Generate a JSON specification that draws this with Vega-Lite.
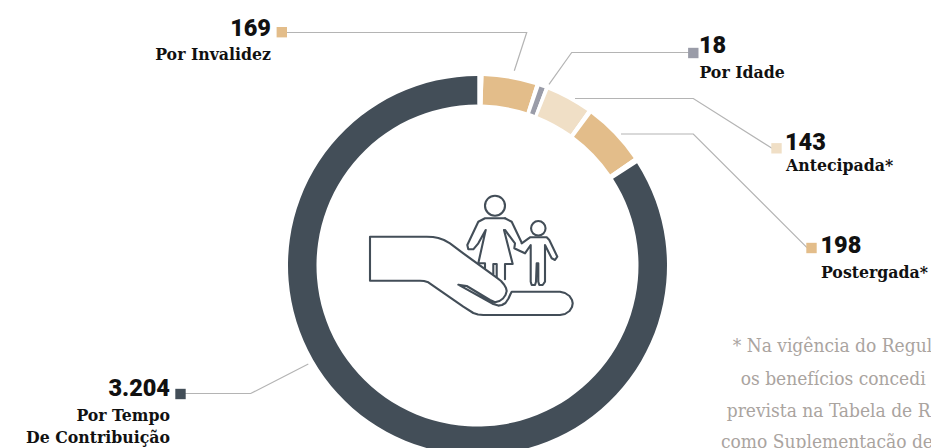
{
  "$schema": "https://vega.github.io/schema/vega-lite/v6.json",
  "width": 931,
  "height": 448,
  "padding": 0,
  "autosize": {"type": "none"},
  "background": "white",
  "config": {"view": {"stroke": null}},
  "encoding": {
    "x": {"field": "x", "type": "quantitative", "scale": {"domain": [0, 931], "nice": false, "zero": false}, "axis": null},
    "y": {"field": "y", "type": "quantitative", "scale": {"domain": [448, 0], "nice": false, "zero": false}, "axis": null}
  },
  "layer": [
    {
      "data": {"values": [
        {"tipo": "Por Invalidez", "valor": 169, "ordem": 1},
        {"tipo": "intervalo", "valor": 14, "ordem": 2},
        {"tipo": "Por Idade", "valor": 18, "ordem": 3},
        {"tipo": "intervalo", "valor": 12, "ordem": 4},
        {"tipo": "Antecipada", "valor": 143, "ordem": 5},
        {"tipo": "intervalo", "valor": 15, "ordem": 6},
        {"tipo": "Postergada", "valor": 198, "ordem": 7},
        {"tipo": "intervalo", "valor": 19, "ordem": 8},
        {"tipo": "Por Tempo de Contribuição", "valor": 3204, "ordem": 9},
        {"tipo": "intervalo", "valor": 19, "ordem": 10}
      ]},
      "mark": {"type": "arc", "innerRadius": 161, "outerRadius": 189.5},
      "encoding": {
        "x": {"value": 477.5},
        "y": {"value": 265.5},
        "theta": {"field": "valor", "type": "quantitative", "stack": true, "scale": {"range": [0.0315, 6.3147]}},
        "order": {"field": "ordem", "type": "quantitative"},
        "color": {
          "field": "tipo",
          "type": "nominal",
          "legend": null,
          "scale": {
            "domain": ["Por Invalidez", "Por Idade", "Antecipada", "Postergada", "Por Tempo de Contribuição", "intervalo"],
            "range": ["#e3bd8a", "#9a9ca8", "#f0dfc6", "#e3bd8a", "#434e58", "#ffffff"]
          }
        }
      }
    },
    {
      "data": {"values": [
        {"fio": "Por Invalidez", "p": 1, "x": 284, "y": 32.5},
        {"fio": "Por Invalidez", "p": 2, "x": 526.7, "y": 32.5},
        {"fio": "Por Invalidez", "p": 3, "x": 514.3, "y": 70.7},
        {"fio": "Por Idade", "p": 1, "x": 692, "y": 52.5},
        {"fio": "Por Idade", "p": 2, "x": 571.7, "y": 52.5},
        {"fio": "Por Idade", "p": 3, "x": 549, "y": 84.3},
        {"fio": "Antecipada", "p": 1, "x": 575, "y": 98.5},
        {"fio": "Antecipada", "p": 2, "x": 693.3, "y": 98.5},
        {"fio": "Antecipada", "p": 3, "x": 772, "y": 148.3},
        {"fio": "Postergada", "p": 1, "x": 621, "y": 134},
        {"fio": "Postergada", "p": 2, "x": 693.3, "y": 134},
        {"fio": "Postergada", "p": 3, "x": 807, "y": 247.7},
        {"fio": "Por Tempo", "p": 1, "x": 308.3, "y": 364},
        {"fio": "Por Tempo", "p": 2, "x": 250.7, "y": 393.5},
        {"fio": "Por Tempo", "p": 3, "x": 185, "y": 393.5}
      ]},
      "mark": {"type": "line", "stroke": "#b4b4b4", "strokeWidth": 1.2},
      "encoding": {
        "detail": {"field": "fio"},
        "order": {"field": "p", "type": "quantitative"}
      }
    },
    {
      "data": {"values": [
        {"tipo": "Por Invalidez", "x": 281.8, "y": 32.2},
        {"tipo": "Por Idade", "x": 693.3, "y": 53},
        {"tipo": "Antecipada", "x": 776.5, "y": 148.3},
        {"tipo": "Postergada", "x": 811.5, "y": 248},
        {"tipo": "Por Tempo de Contribuição", "x": 180.5, "y": 394}
      ]},
      "mark": {"type": "point", "shape": "square", "filled": true, "size": 108, "opacity": 1},
      "encoding": {
        "color": {"field": "tipo", "type": "nominal", "legend": null}
      }
    },
    {
      "data": {"values": [
        {"parte": "mão", "p": 1, "x": 370, "y": 236.7},
        {"parte": "mão", "p": 2, "x": 426.7, "y": 236.7},
        {"parte": "mão", "p": 3, "x": 433, "y": 237},
        {"parte": "mão", "p": 4, "x": 438.3, "y": 238},
        {"parte": "mão", "p": 5, "x": 444, "y": 240},
        {"parte": "mão", "p": 6, "x": 450, "y": 243.3},
        {"parte": "mão", "p": 7, "x": 463.3, "y": 253.3},
        {"parte": "mão", "p": 8, "x": 496.7, "y": 277.7},
        {"parte": "mão", "p": 9, "x": 501, "y": 281},
        {"parte": "mão", "p": 10, "x": 504, "y": 284.5},
        {"parte": "mão", "p": 11, "x": 506, "y": 288},
        {"parte": "mão", "p": 12, "x": 506.7, "y": 291},
        {"parte": "mão", "p": 13, "x": 505.5, "y": 295},
        {"parte": "mão", "p": 14, "x": 503, "y": 298.5},
        {"parte": "mão", "p": 15, "x": 499.5, "y": 301},
        {"parte": "mão", "p": 16, "x": 495, "y": 302.3},
        {"parte": "mão", "p": 17, "x": 490, "y": 300},
        {"parte": "mão", "p": 18, "x": 466.7, "y": 286},
        {"parte": "mão", "p": 19, "x": 458.3, "y": 284.7},
        {"parte": "mão", "p": 20, "x": 493.3, "y": 304},
        {"parte": "mão", "p": 21, "x": 498.3, "y": 305.6},
        {"parte": "mão", "p": 22, "x": 502, "y": 305},
        {"parte": "mão", "p": 23, "x": 505.5, "y": 303},
        {"parte": "mão", "p": 24, "x": 508.5, "y": 298.5},
        {"parte": "mão", "p": 25, "x": 510.5, "y": 294},
        {"parte": "mão", "p": 26, "x": 511.7, "y": 291.7},
        {"parte": "mão", "p": 27, "x": 560, "y": 291.7},
        {"parte": "mão", "p": 28, "x": 565, "y": 293},
        {"parte": "mão", "p": 29, "x": 569.5, "y": 296},
        {"parte": "mão", "p": 30, "x": 572, "y": 300},
        {"parte": "mão", "p": 31, "x": 572.7, "y": 303.3},
        {"parte": "mão", "p": 32, "x": 572, "y": 307},
        {"parte": "mão", "p": 33, "x": 569.5, "y": 311},
        {"parte": "mão", "p": 34, "x": 565, "y": 314},
        {"parte": "mão", "p": 35, "x": 560, "y": 315},
        {"parte": "mão", "p": 36, "x": 483.3, "y": 315},
        {"parte": "mão", "p": 37, "x": 478, "y": 314.5},
        {"parte": "mão", "p": 38, "x": 473.3, "y": 313},
        {"parte": "mão", "p": 39, "x": 463.3, "y": 306.7},
        {"parte": "mão", "p": 40, "x": 428.3, "y": 282.3},
        {"parte": "mão", "p": 41, "x": 424, "y": 281},
        {"parte": "mão", "p": 42, "x": 420, "y": 280.7},
        {"parte": "mão", "p": 43, "x": 370, "y": 280.7},
        {"parte": "mão", "p": 44, "x": 370, "y": 236.7},

        {"parte": "mãe esquerda", "p": 1, "x": 505, "y": 218.3},
        {"parte": "mãe esquerda", "p": 2, "x": 485, "y": 218.3},
        {"parte": "mãe esquerda", "p": 3, "x": 478.3, "y": 221.7},
        {"parte": "mãe esquerda", "p": 4, "x": 467.3, "y": 245},
        {"parte": "mãe esquerda", "p": 5, "x": 468.3, "y": 249.3},
        {"parte": "mãe esquerda", "p": 6, "x": 473.3, "y": 249.3},
        {"parte": "mãe esquerda", "p": 7, "x": 478.3, "y": 243.3},
        {"parte": "mãe esquerda", "p": 8, "x": 485.7, "y": 230},
        {"parte": "mãe esquerda", "p": 9, "x": 478.3, "y": 263.3},
        {"parte": "mãe esquerda", "p": 10, "x": 485, "y": 263.3},
        {"parte": "mãe esquerda", "p": 11, "x": 485, "y": 268.3},

        {"parte": "mãe direita", "p": 1, "x": 505, "y": 218.3},
        {"parte": "mãe direita", "p": 2, "x": 511.7, "y": 221.7},
        {"parte": "mãe direita", "p": 3, "x": 521.7, "y": 242.7},

        {"parte": "saia", "p": 1, "x": 504, "y": 230},
        {"parte": "saia", "p": 2, "x": 512.7, "y": 264},
        {"parte": "saia", "p": 3, "x": 505, "y": 264},
        {"parte": "saia", "p": 4, "x": 505, "y": 279.3},

        {"parte": "pernas", "p": 1, "x": 493.3, "y": 274},
        {"parte": "pernas", "p": 2, "x": 493.3, "y": 264},
        {"parte": "pernas", "p": 3, "x": 496.7, "y": 264},
        {"parte": "pernas", "p": 4, "x": 496.7, "y": 277},

        {"parte": "criança", "p": 1, "x": 505, "y": 230},
        {"parte": "criança", "p": 2, "x": 515, "y": 243.3},
        {"parte": "criança", "p": 3, "x": 514.3, "y": 248.3},
        {"parte": "criança", "p": 4, "x": 520, "y": 251},
        {"parte": "criança", "p": 5, "x": 525, "y": 253.3},
        {"parte": "criança", "p": 6, "x": 530.7, "y": 245},
        {"parte": "criança", "p": 7, "x": 530.7, "y": 281.7},
        {"parte": "criança", "p": 8, "x": 531.7, "y": 285},
        {"parte": "criança", "p": 9, "x": 535, "y": 285},
        {"parte": "criança", "p": 10, "x": 536, "y": 281.7},
        {"parte": "criança", "p": 11, "x": 536.7, "y": 263.3},
        {"parte": "criança", "p": 12, "x": 538.3, "y": 263.3},
        {"parte": "criança", "p": 13, "x": 538.3, "y": 281.7},
        {"parte": "criança", "p": 14, "x": 539.3, "y": 285},
        {"parte": "criança", "p": 15, "x": 542.7, "y": 285},
        {"parte": "criança", "p": 16, "x": 545, "y": 281.7},
        {"parte": "criança", "p": 17, "x": 545, "y": 245},
        {"parte": "criança", "p": 18, "x": 551.7, "y": 258.3},
        {"parte": "criança", "p": 19, "x": 555, "y": 260},
        {"parte": "criança", "p": 20, "x": 557.3, "y": 256.7},
        {"parte": "criança", "p": 21, "x": 549.3, "y": 240},
        {"parte": "criança", "p": 22, "x": 546.7, "y": 237.3},
        {"parte": "criança", "p": 23, "x": 530, "y": 237.3},
        {"parte": "criança", "p": 24, "x": 521.7, "y": 243.3}
      ]},
      "mark": {"type": "line", "stroke": "#434e58", "strokeWidth": 2.1, "strokeJoin": "round", "strokeCap": "round"},
      "encoding": {
        "detail": {"field": "parte"},
        "order": {"field": "p", "type": "quantitative"}
      }
    },
    {
      "data": {"values": [
        {"cabeça": "mãe", "x": 495, "y": 205.7, "diametro": 20},
        {"cabeça": "criança", "x": 538.3, "y": 228.3, "diametro": 14.5}
      ]},
      "mark": {"type": "point", "shape": "circle", "filled": false, "stroke": "#434e58", "strokeWidth": 2.1, "opacity": 1},
      "encoding": {
        "size": {"field": "diametro", "type": "quantitative", "legend": null, "scale": {"type": "pow", "exponent": 2, "domain": [0, 20], "range": [0, 400]}}
      }
    },
    {
      "data": {"values": [
        {"texto": "169", "x": 271, "y": 35.7},
        {"texto": "3.204", "x": 170, "y": 396}
      ]},
      "mark": {"type": "text", "align": "right", "baseline": "alphabetic", "font": "Roboto", "fontWeight": 900, "fontSize": 23.5, "fill": "#111111"},
      "encoding": {"text": {"field": "texto"}}
    },
    {
      "data": {"values": [
        {"texto": "18", "x": 699, "y": 52.7},
        {"texto": "143", "x": 785, "y": 150},
        {"texto": "198", "x": 820.5, "y": 253}
      ]},
      "mark": {"type": "text", "align": "left", "baseline": "alphabetic", "font": "Roboto", "fontWeight": 900, "fontSize": 23.5, "fill": "#111111"},
      "encoding": {"text": {"field": "texto"}}
    },
    {
      "data": {"values": [
        {"texto": "Por Invalidez", "x": 271, "y": 60},
        {"texto": "Por Tempo", "x": 170, "y": 420.7},
        {"texto": "De Contribuição", "x": 170, "y": 442.7}
      ]},
      "mark": {"type": "text", "align": "right", "baseline": "alphabetic", "font": "DejaVu Serif Condensed", "fontWeight": "bold", "fontSize": 17.5, "fill": "#111111"},
      "encoding": {"text": {"field": "texto"}}
    },
    {
      "data": {"values": [
        {"texto": "Por Idade", "x": 699.5, "y": 77.7},
        {"texto": "Antecipada*", "x": 786, "y": 171},
        {"texto": "Postergada*", "x": 821, "y": 277.7}
      ]},
      "mark": {"type": "text", "align": "left", "baseline": "alphabetic", "font": "DejaVu Serif Condensed", "fontWeight": "bold", "fontSize": 17.5, "fill": "#111111"},
      "encoding": {"text": {"field": "texto"}}
    },
    {
      "data": {"values": [
        {"texto": "* Na vigência do Regul", "x": 732.7, "y": 352},
        {"texto": "os benefícios concedi", "x": 740.7, "y": 384.5},
        {"texto": "prevista na Tabela de R", "x": 726.7, "y": 416.5},
        {"texto": "como Suplementação de", "x": 721, "y": 448}
      ]},
      "mark": {"type": "text", "align": "left", "baseline": "alphabetic", "font": "DejaVu Serif Condensed", "fontWeight": "normal", "fontSize": 19, "fill": "#aaa49f"},
      "encoding": {"text": {"field": "texto"}}
    }
  ]
}
